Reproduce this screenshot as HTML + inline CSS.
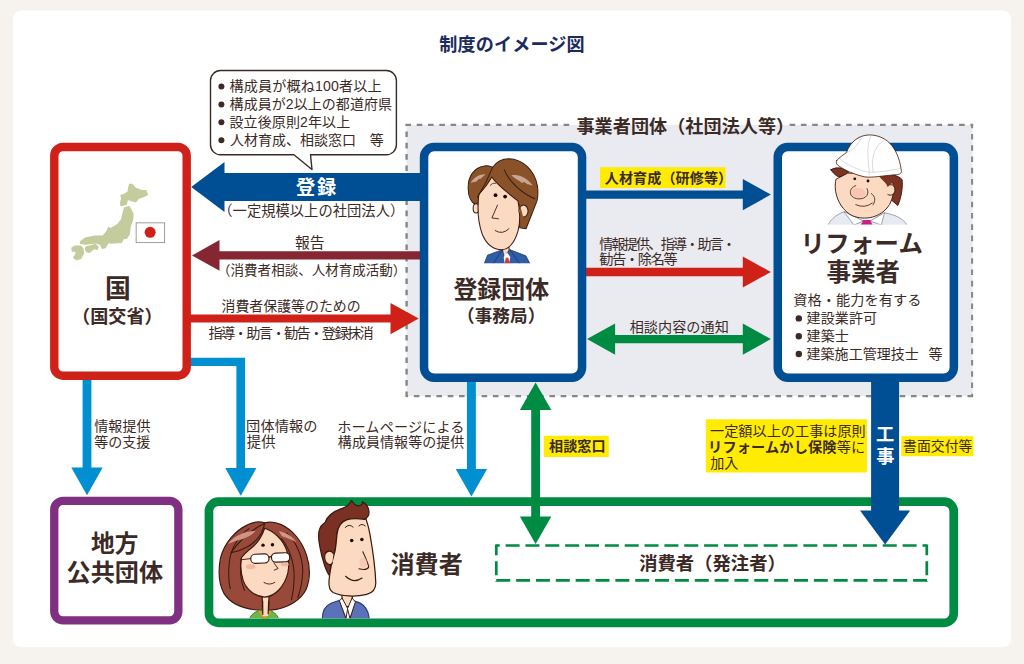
<!DOCTYPE html>
<html lang="ja">
<head>
<meta charset="utf-8">
<title>制度のイメージ図</title>
<style>
html,body{margin:0;padding:0;background:#f6f3ee;font-family:"Liberation Sans",sans-serif;}
svg{display:block}
svg text{font-family:"Liberation Sans","Noto Sans CJK JP",sans-serif;}
</style>
</head>
<body>
<svg width="1024" height="664" viewBox="0 0 1024 664" role="img" aria-label="制度のイメージ図">
<rect width="1024" height="664" fill="#f6f3ee"/>
<rect x="13" y="10.6" width="998" height="636.6" rx="8" fill="#fff"/>
<rect x="406.5" y="124.9" width="566" height="271" fill="#eaeaf1"/>
<g fill="none" stroke="#878787" stroke-width="2.4" stroke-dasharray="5.6 5.7"><path d="M405.4 124.9H573"/><path d="M786.5 124.9H973.2" stroke-dashoffset="8.2"/><path d="M406.6 124.9V397.2" stroke-dashoffset="4.7"/><path d="M406.6 396.1H973.2" stroke-dashoffset="4.1"/><path d="M972.1 124.9V397" stroke-width="2" stroke-dashoffset="2.3"/></g>
<polygon fill="#008fd1" points="82.6,375 82.6,467.6 71.3,467.6 87,495.2 102.7,467.6 91.4,467.6 91.4,375"/>
<polygon fill="#008fd1" points="186,357.7 245.1,357.7 245.1,468 256.4,468 240.8,495.8 225.2,468 236.4,468 236.4,366 186,366"/>
<polygon fill="#008fd1" points="466.95,377 466.95,469 455.7,469 471.4,496.6 487.1,469 475.85,469 475.85,377"/>
<polygon fill="#004f95" points="425,173 224.5,173 224.5,162 191.2,187 224.5,212 224.5,201 425,201"/>
<polygon fill="#862632" points="425,251.2 219.5,251.2 219.5,240 192,255.4 219.5,270.8 219.5,259.6 425,259.6"/>
<polygon fill="#cf2118" points="186,314.6 390.5,314.6 390.5,303 418.7,318.6 390.5,334.2 390.5,322.6 186,322.6"/>
<polygon fill="#004f95" points="582,190.45 742.8,190.45 742.8,178.95 770.9,194.6 742.8,210.25 742.8,198.75 582,198.75"/>
<polygon fill="#cf2118" points="582,267.85 742.8,267.85 742.8,256.4 770.9,272 742.8,287.6 742.8,276.15 582,276.15"/>
<polygon fill="#008b42" points="587,339.1 615.1,323.5 615.1,334.95 742.8,334.95 742.8,323.5 770.9,339.1 742.8,354.7 742.8,343.25 615.1,343.25 615.1,354.7"/>
<rect x="54.30" y="147.00" width="132.40" height="228.70" rx="8.80" fill="#fff" stroke="#cf2118" stroke-width="8.4"/>
<rect x="424.05" y="147.05" width="158.00" height="230.60" rx="10.05" fill="#fff" stroke="#004f95" stroke-width="8.5"/>
<rect x="777.75" y="147.05" width="176.10" height="230.60" rx="10.05" fill="#fff" stroke="#004f95" stroke-width="8.5"/>
<rect x="54.25" y="500.85" width="124.10" height="119.60" rx="8.85" fill="#fff" stroke="#803080" stroke-width="8.3"/>
<rect x="208.95" y="501.65" width="744.80" height="121.20" rx="9.65" fill="#fff" stroke="#008b42" stroke-width="8.7"/>
<g fill="none" stroke="#008b42" stroke-width="2.7" stroke-dasharray="14 5.85"><path d="M496.25 545.5H927" stroke-dashoffset="10.5"/><path d="M496.25 580.3H927"/><path d="M496.3 544.4V581.4" stroke-dashoffset="3.1"/><path d="M926.8 544.4V581.4" stroke-dashoffset="3.1"/></g>
<polygon fill="#008b42" points="535.6,382.4 519.9,410 531.2,410 531.2,516.4 519.9,516.4 535.6,544 551.3,516.4 540,516.4 540,410 551.3,410"/>
<polygon fill="#004f95" points="871.1,378 871.1,510.6 860,510.6 885.1,544.6 910.2,510.6 899.1,510.6 899.1,378"/>
<defs><clipPath id="clipMan1"><rect x="0" y="0" width="609" height="627"/></clipPath><clipPath id="clipWorker"><rect x="0" y="0" width="664" height="601"/></clipPath><clipPath id="clipWoman"><rect x="0" y="0" width="604" height="623"/></clipPath><clipPath id="clipMan2"><rect x="0" y="0" width="409" height="630"/></clipPath></defs>
<g transform="translate(60 170) scale(0.15060)" >
<g fill="#c4cc9d" stroke="#c4cc9d" stroke-width="9" stroke-linejoin="round">
<path d="M462,95 L476,95 L500,120 L545,138 L570,138 L580,163 L553,177 L520,188 L503,210 L480,205 L448,193 L440,228 L405,236 L403,215 L410,190 L405,168 L424,163 L452,147 L458,112Z"/>
<path d="M428,252 L460,244 L485,292 L481,330 L467,370 L460,423 L443,452 L418,457 L408,481 L340,485 L318,482 L300,516 L280,520 L269,494 L240,484 L170,492 L136,487 L136,477 L167,453 L230,440 L287,438 L313,407 L322,381 L336,390 L382,363 L408,332Z"/>
<path d="M172,512 L234,495 L253,511 L247,527 L224,522 L195,546 L178,542 L169,526Z"/>
<path d="M80,517 L101,505 L134,505 L152,522 L155,554 L138,587 L111,595 L91,582 L108,556 L103,538 L82,538Z"/>
</g>
<rect x="505.5" y="351" width="189.5" height="131.5" fill="#fff" stroke="#8a7b78" stroke-width="5"/>
<circle cx="598.5" cy="413.5" r="36.5" fill="#cf2118"/>
</g>
<g transform="translate(450 150) scale(0.18064)" clip-path="url(#clipMan1)">
<g stroke="#3a1a0e" stroke-width="5.6" stroke-linejoin="round" stroke-linecap="round">
<path fill="#8a5228" d="M101,220 C96,150 132,96 190,88 C207,85 225,89 236,96 C256,66 290,48 326,48 C402,50 470,112 484,200 C489,240 486,268 480,286 L421,436 L386,430 L385,300 L152,292 L142,300 C116,290 102,255 101,220Z"/>
<ellipse cx="144" cy="323" rx="16" ry="26" fill="#fbdac1"/>
<path fill="#fbdac1" d="M291,540 L291,610 L327,610 L327,540Z"/>
<path fill="#fbdac1" d="M160,246 C190,215 215,180 232,150 C255,190 320,238 376,282 C386,330 390,400 376,450 C355,520 320,552 288,552 C240,552 200,520 178,465 C155,400 152,310 160,246Z"/>
<ellipse cx="407" cy="338" rx="25" ry="33" fill="#fbdac1"/>
<path fill="#8a5228" stroke="none" d="M384,290 L421,432 L392,428Z"/>
<path fill="none" d="M236,96 C214,150 190,200 152,262"/>
<path fill="none" d="M300,110 C330,180 400,240 470,270"/>
<path fill="none" stroke-width="4.9" d="M263,305 L232,376 L268,381"/>
<path fill="none" stroke-width="4.9" d="M250,446 Q290,472 326,436"/>
<path fill="none" stroke-width="4.2" d="M222,196 Q236,178 252,184"/>
<path fill="#2f5ea8" stroke="#1d2f5e" stroke-width="4.2" d="M190,628 L208,582 L290,552 L302,600 L318,566 L332,552 L420,586 L442,628Z"/>
<path fill="#fff" stroke="none" d="M297,592 L316,568 L334,592 L326,628 L303,628Z"/>
<path fill="#d8343a" stroke="none" d="M309,596 L323,596 L330,628 L303,628Z"/>
<path fill="none" stroke="#1d2f5e" stroke-width="4.2" d="M290,552 L240,628 M332,552 L385,628"/>
</g>
<circle cx="252" cy="250" r="10.5" fill="#1a0c08"/><circle cx="305" cy="258" r="10.5" fill="#1a0c08"/>
<path d="M114,182 C132,150 162,134 196,134 C186,146 176,150 170,160 C160,158 150,168 146,176 C136,174 124,180 114,182Z" fill="#c9a694"/>
<path d="M340,140 C385,132 430,158 458,196 C445,196 436,186 428,190 C418,178 404,176 396,182 C384,166 366,166 340,140Z" fill="#c9a694"/>
</g>
<g transform="translate(815 125) scale(0.16567)" clip-path="url(#clipWorker)">
<g stroke="#3a1a0e" stroke-width="5.6" stroke-linejoin="round" stroke-linecap="round">
<path fill="#e7eaf0" stroke="#7d828c" stroke-width="4.2" d="M78,604 C100,560 140,536 176,524 L240,560 L292,582 L342,576 L420,530 C482,542 532,562 556,604Z"/>
<path fill="#fff" stroke="#7d828c" stroke-width="4.2" d="M176,524 L235,604 L290,580Z M420,530 L400,604 L335,580Z"/>
<path fill="#cf1a8a" stroke="none" d="M292,574 L332,574 L348,604 L276,604Z"/>
<path fill="#7c3322" d="M96,270 C130,250 172,256 202,286 L212,312 L140,312 C120,302 106,286 96,270Z"/>
<path fill="#7c3322" d="M380,305 C440,290 500,300 526,330 C531,380 520,440 500,486 L446,440 L430,380Z"/>
<path fill="#fbdac1" d="M126,330 C110,400 140,500 222,546 C300,580 400,560 450,480 C470,440 480,400 470,350 L380,300 L200,290Z"/>
<path fill="#fbdac1" d="M436,368 C456,350 484,362 482,394 C480,420 458,430 440,420"/>
<path fill="#7c3322" stroke="none" d="M382,306 L440,300 L470,345 L440,372 L425,350Z"/>
<ellipse cx="262" cy="410" rx="44" ry="30" fill="#f7bfa9" stroke="none" opacity=".75"/><path fill="none" stroke-width="4.9" d="M246,366 C200,380 200,440 260,446 C312,449 330,412 314,384"/>
<path fill="none" stroke-width="4.9" d="M340,414 C366,430 366,460 350,482"/>
<path fill="none" stroke-width="4.9" d="M246,481 Q300,506 346,471"/>
<path fill="#fff" stroke-width="4.9" d="M131,215 C150,192 172,180 190,166 C215,96 270,60 330,60 C420,62 500,120 521,275 C526,290 510,300 490,300 C420,305 340,320 300,313 C240,300 170,270 136,241 C128,233 126,223 131,215Z"/>
</g>
<g fill="none" stroke="#c9cbd0" stroke-width="4.2">
<path d="M338,64 C310,120 318,205 330,302"/><path d="M415,92 C352,135 338,205 352,292"/>
<path d="M190,168 C232,152 258,120 282,76"/><path d="M150,205 C200,245 280,280 330,285 C400,285 470,272 515,262"/>
</g>
<circle cx="240" cy="325" r="8.5" fill="#1a0c08"/><circle cx="320" cy="338" r="8.5" fill="#1a0c08"/>
</g>
<g transform="translate(215 515) scale(0.16556)" clip-path="url(#clipWoman)">
<g stroke="#3a1a0e" stroke-width="7.0" stroke-linejoin="round" stroke-linecap="round">
<path fill="#99493a" d="M300,47 C270,38 235,40 200,58 C120,95 55,170 33,260 C18,340 25,420 55,475 C90,530 160,562 240,572 C280,577 330,577 370,570 C450,556 520,510 550,450 C575,390 575,310 552,240 C525,160 470,90 400,58 C365,42 330,40 300,47Z"/>
<path fill="#fbdac1" d="M285,490 L288,625 L323,625 L326,490Z"/>
<path fill="#6db54a" stroke="#3f7f2d" stroke-width="5.6" d="M208,630 C215,600 245,580 285,574 L300,612 L327,577 C350,580 375,598 386,630Z"/>
<path fill="none" stroke="#f39a1e" stroke-width="11.2" d="M268,582 L300,622 L333,584"/>
<path fill="#fbdac1" stroke="none" d="M289,560 L289,610 L321,610 L321,560Z"/>
<path fill="none" d="M288,520 L289,600 M324,520 L321,596"/>
<path fill="#fbdac1" d="M300,80 C285,125 255,170 225,195 C200,215 175,235 160,258 C152,300 155,345 170,395 C190,450 240,492 300,496 C365,492 420,430 440,350 C450,300 445,250 432,210 C410,150 360,100 300,80Z"/>
<path fill="#99493a" d="M300,50 C290,110 250,160 200,190 C165,210 130,222 96,228 C150,150 220,90 300,50Z"/>
<path fill="none" stroke-width="6.3" d="M205,82 C140,130 95,200 86,290 C80,350 82,400 92,445"/>
<path fill="none" stroke-width="6.3" d="M158,262 C148,330 155,400 178,455"/>
<path fill="none" stroke-width="6.3" d="M402,142 C450,200 480,290 478,380 C477,430 472,470 462,512"/>
<path fill="none" stroke-width="6.3" d="M432,108 C490,160 530,250 530,340 C528,400 518,450 500,500"/>
<path fill="none" stroke-width="5.6" d="M356,290 L381,323 L358,333"/>
<path fill="none" stroke-width="5.6" d="M296,408 Q330,428 361,407"/>
<path fill="none" stroke-width="5.6" d="M216,263 L162,270"/>
<rect x="216" y="236" width="110" height="55" rx="26" fill="#fff" transform="rotate(-2 270 262)"/>
<rect x="341" y="229" width="110" height="55" rx="26" fill="#fff" transform="rotate(-2 396 256)"/>
<path fill="none" stroke-width="6.3" d="M326,256 Q333,250 341,252"/>
</g>
<circle cx="290" cy="182" r="10.5" fill="#1a0c08"/><circle cx="347" cy="180" r="10.5" fill="#1a0c08"/>
<ellipse cx="214" cy="313" rx="29" ry="15" fill="#f5b6a4"/><ellipse cx="421" cy="299" rx="24" ry="12" fill="#f5b6a4"/>
<path d="M78,175 C110,130 170,100 245,95 C225,120 190,140 150,150 C120,158 95,168 78,175Z" fill="#d6a092" opacity=".9"/>
<path d="M385,98 C430,105 470,130 492,165 C465,150 435,138 405,128Z" fill="#d6a092" opacity=".9"/>
</g>
<g transform="translate(310 495) scale(0.19578)" clip-path="url(#clipMan2)">
<g stroke="#3a1a0e" stroke-width="6.3" stroke-linejoin="round" stroke-linecap="round">
<path fill="#fbdac1" d="M163,500 L165,570 L216,570 L216,500Z"/>
<path fill="#5b72b9" stroke="#2a3a75" stroke-width="5.6" d="M63,634 C62,590 80,565 110,552 L152,538 L184,634Z"/>
<path fill="#5b72b9" stroke="#2a3a75" stroke-width="5.6" d="M228,542 C270,552 298,580 303,634 L204,634Z"/>
<path fill="#fff" stroke-width="4.9" d="M163,528 L150,540 L184,630 L192,582Z"/>
<path fill="#fff" stroke-width="4.9" d="M216,528 L232,546 L204,630 L192,582Z"/>
<path fill="#7b3024" d="M104,416 C85,400 62,330 50,262 C42,220 42,190 50,172 C58,150 72,148 78,138 C92,100 135,78 165,68 C188,60 202,48 212,28 C222,46 236,56 250,56 C262,54 268,44 268,34 C294,48 308,80 298,106 C292,116 286,122 278,124 C250,122 215,118 190,126 C160,136 142,160 138,200 C134,240 132,280 124,300 L106,310Z"/>
<path fill="#fbdac1" d="M278,124 C250,120 215,118 190,126 C160,136 142,160 138,200 C134,240 132,280 124,300 C112,340 100,400 97,440 C95,470 100,488 118,498 C160,518 230,522 290,508 C322,500 336,480 336,450 C334,380 322,290 306,200 C300,165 292,140 286,122Z"/>
<path fill="#fbdac1" d="M120,300 C108,280 84,282 76,304 C70,330 82,352 100,356 C108,357 112,352 114,346"/>
<path fill="none" stroke-width="5.6" d="M270,290 C286,325 298,350 300,368 C294,382 270,382 250,377"/>
<path fill="none" stroke-width="5.6" d="M182,415 Q222,454 266,424"/>
<path fill="none" stroke-width="4.9" d="M180,166 Q200,144 220,164 M250,158 Q266,142 282,158"/>
</g>
<circle cx="213" cy="232" r="9" fill="#1a0c08"/><circle cx="265" cy="227" r="9" fill="#1a0c08"/>
<ellipse cx="272" cy="345" rx="20" ry="26" fill="#f6b9a8" opacity=".55"/>
</g>
<path d="M220.5 70.5H386.4a10 10 0 0 1 10 10V144.8a10 10 0 0 1-10 10H310.5L312 169.5 293.9 154.8H220.5a10 10 0 0 1-10-10V80.5a10 10 0 0 1 10-10Z" fill="#fff" stroke="#3b2a25" stroke-width="1.4" stroke-linejoin="round"/>
<circle cx="221.4" cy="86.5" r="3.0" fill="#3b2a25"/>
<circle cx="221.4" cy="104.5" r="3.0" fill="#3b2a25"/>
<circle cx="221.4" cy="122.3" r="3.0" fill="#3b2a25"/>
<circle cx="221.4" cy="140.2" r="3.0" fill="#3b2a25"/>
<text x="229.62" y="91.20" font-size="14.1" fill="#3b2a25" textLength="151.9">構成員が概ね100者以上</text>
<text x="229.62" y="109.20" font-size="14" fill="#3b2a25" textLength="162.4">構成員が2以上の都道府県</text>
<text x="229.51" y="126.88" font-size="14" fill="#3b2a25" textLength="120.7">設立後原則2年以上</text>
<text x="229.91" y="144.88" font-size="14" fill="#3b2a25" textLength="126.1">人材育成、相談窓口</text>
<text x="369.63" y="144.99" font-size="14" fill="#3b2a25">等</text>
<rect x="600" y="167.2" width="125.5" height="20.8" fill="#ffec00"/>
<rect x="543.8" y="435.8" width="65.0" height="21.2" fill="#ffec00"/>
<rect x="705.8" y="419.3" width="161.2" height="53.2" fill="#ffec00"/>
<rect x="901.3" y="436.2" width="72.2" height="20.0" fill="#ffec00"/>
<text x="439.22" y="50.63" font-size="18.1" font-weight="bold" fill="#1c2b5e" textLength="145.4">制度のイメージ図</text>
<text x="296.07" y="194.21" font-size="19.2" font-weight="bold" fill="#fff">登</text>
<text x="317.10" y="193.92" font-size="19.2" font-weight="bold" fill="#fff">録</text>
<text x="218.26" y="216.16" font-size="14.3" fill="#3b2a25" textLength="186">（一定規模以上の社団法人）</text>
<text x="295.05" y="248.37" font-size="14.8" fill="#3b2a25" textLength="29.6">報告</text>
<text x="217.10" y="274.98" font-size="13.5" fill="#3b2a25" textLength="189.1">（消費者相談、人材育成活動）</text>
<text x="221.53" y="311.06" font-size="13.9" fill="#3b2a25" textLength="139.1">消費者保護等のための</text>
<text x="208.42" y="337.51" font-size="14.2" fill="#3b2a25" textLength="165.4">指導・助言・勧告・登録抹消</text>
<text x="104.96" y="297.92" font-size="25.8" font-weight="bold" fill="#3b2a25">国</text>
<text x="72.12" y="323.01" font-size="18.1" font-weight="bold" fill="#3b2a25" textLength="90.6">（国交省）</text>
<text x="453.41" y="298.02" font-size="23.9" font-weight="bold" fill="#3b2a25" textLength="95.8">登録団体</text>
<text x="457.01" y="322.49" font-size="17.6" font-weight="bold" fill="#3b2a25" textLength="88.3">（事務局）</text>
<text x="576.42" y="132.56" font-size="18.1" font-weight="bold" fill="#3b2a25" textLength="217.8">事業者団体（社団法人等）</text>
<text x="604.79" y="183.10" font-size="14.1" font-weight="bold" fill="#3b2a25" textLength="127.4">人材育成（研修等）</text>
<text x="599.28" y="248.81" font-size="14" fill="#3b2a25" textLength="136.7">情報提供、指導・助言・</text>
<text x="599.30" y="264.25" font-size="14.1" fill="#3b2a25" textLength="78.3">勧告・除名等</text>
<text x="629.65" y="331.76" font-size="14.1" fill="#3b2a25" textLength="99.1">相談内容の通知</text>
<text x="800.62" y="252.47" font-size="24.4" font-weight="bold" fill="#3b2a25" textLength="122.3">リフォーム</text>
<text x="826.42" y="280.77" font-size="24.5" font-weight="bold" fill="#3b2a25" textLength="73.6">事業者</text>
<text x="793.22" y="305.04" font-size="14.2" fill="#3b2a25" textLength="128.2">資格・能力を有する</text>
<circle cx="798.8" cy="318.4" r="3.2" fill="#3b2a25"/>
<circle cx="798.8" cy="336.2" r="3.2" fill="#3b2a25"/>
<circle cx="798.8" cy="354.0" r="3.2" fill="#3b2a25"/>
<text x="806.59" y="323.43" font-size="14" fill="#3b2a25" textLength="70.4">建設業許可</text>
<text x="806.59" y="341.07" font-size="14" fill="#3b2a25" textLength="42.1">建築士</text>
<text x="806.59" y="359.30" font-size="14" fill="#3b2a25" textLength="112.1">建築施工管理技士</text>
<text x="928.43" y="359.34" font-size="14.1" fill="#3b2a25">等</text>
<text x="94.28" y="431.43" font-size="14" fill="#3b2a25" textLength="56.2">情報提供</text>
<text x="94.24" y="446.81" font-size="14" fill="#3b2a25" textLength="56.1">等の支援</text>
<text x="246.09" y="431.43" font-size="14.2" fill="#3b2a25" textLength="71.4">団体情報の</text>
<text x="246.83" y="446.86" font-size="14.3" fill="#3b2a25" textLength="28.7">提供</text>
<text x="337.23" y="431.83" font-size="14.1" fill="#3b2a25" textLength="127.2">ホームページによる</text>
<text x="337.82" y="446.76" font-size="14" fill="#3b2a25" textLength="126.5">構成員情報等の提供</text>
<text x="549.10" y="451.27" font-size="14.1" font-weight="bold" fill="#3b2a25" textLength="56.5">相談窓口</text>
<text x="710.01" y="436.42" font-size="14.1" fill="#3b2a25" textLength="155.7">一定額以上の工事は原則</text>
<text x="708.04" y="452.43" font-size="14.2" fill="#3b2a25" textLength="157.2"><tspan font-weight="bold">リフォームかし保険</tspan>等に</text>
<text x="710.25" y="467.63" font-size="14.1" fill="#3b2a25" textLength="28.2">加入</text>
<text x="876.04" y="440.68" font-size="18.3" font-weight="bold" fill="#fff">工</text>
<text x="876.22" y="462.75" font-size="18.2" font-weight="bold" fill="#fff">事</text>
<text x="903.08" y="451.43" font-size="13.8" fill="#3b2a25" textLength="69.3">書面交付等</text>
<text x="90.97" y="551.56" font-size="23.7" font-weight="bold" fill="#3b2a25" textLength="47.6">地方</text>
<text x="66.53" y="580.71" font-size="24.1" font-weight="bold" fill="#3b2a25" textLength="96.6">公共団体</text>
<text x="390.45" y="573.10" font-size="24.1" font-weight="bold" fill="#3b2a25" textLength="72.3">消費者</text>
<text x="639.18" y="570.29" font-size="18.3" font-weight="bold" fill="#3b2a25" textLength="146.6">消費者（発注者）</text>
</svg>
</body>
</html>
